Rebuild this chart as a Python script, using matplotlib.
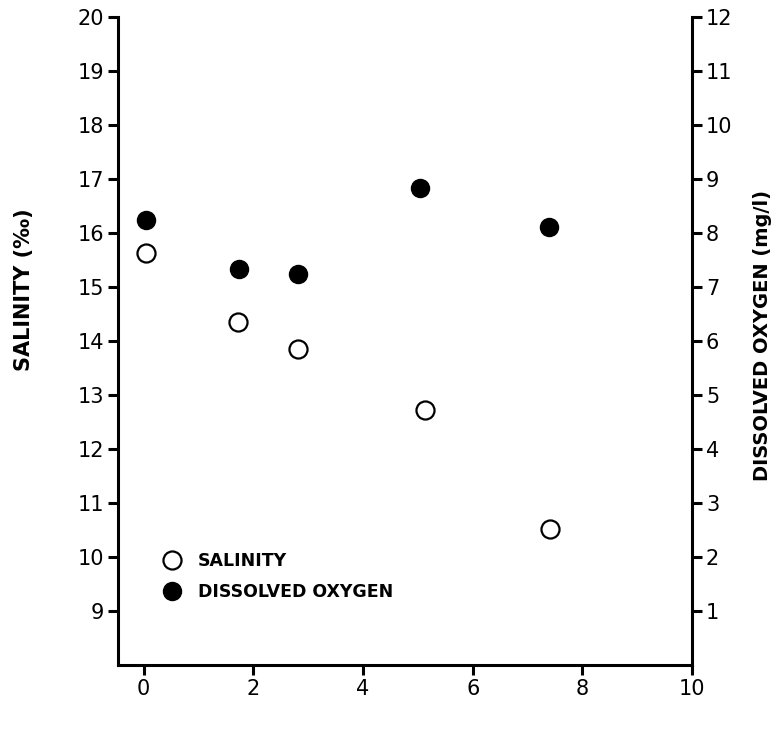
import numpy as np
import matplotlib
matplotlib.use('Agg')
import matplotlib.pyplot as plt
from matplotlib.lines import Line2D

# values
x_sal = [0.04, 1.72, 2.82, 5.13, 7.41]
salinity = [15.63, 14.35, 13.86, 12.73, 10.52]

x_do = [0.04, 1.73, 2.81, 5.04, 7.39]
dissolved_oxygen = [8.24, 7.33, 7.24, 8.83, 8.11]

x_ticks = [0, 2, 4, 6, 8, 10]
sal_ticks = list(range(9, 21))
do_ticks = list(range(1, 13))

plt.rcParams['font.family'] = ['DejaVu Sans']

fig = plt.figure(figsize=(7.72, 7.42), dpi=100)
ax = fig.add_axes([0.1528, 0.1038, 0.7436, 0.8732])
ax2 = ax.twinx()

# salinity - open circles on left axis
ax.plot(x_sal, salinity, 'o', ms=13, mfc='white', mec='black', mew=1.6, ls='none', zorder=3)
# dissolved oxygen - filled circles on right axis
ax2.plot(x_do, dissolved_oxygen, 'o', ms=13, mfc='black', mec='black', ls='none', zorder=3)

ax.set_xlim(-0.47, 10)
ax.set_ylim(8, 20)
ax2.set_ylim(0, 12)

ax.set_xticks(x_ticks)
ax.set_yticks(sal_ticks)
ax2.set_yticks(do_ticks)

for a in (ax, ax2):
    a.spines['top'].set_visible(False)
    for s in a.spines.values():
        s.set_linewidth(2.2)
    a.tick_params(width=2.2, length=7, labelsize=15, pad=3)
ax.spines['right'].set_visible(False)
ax2.spines['left'].set_visible(False)
ax2.spines['bottom'].set_visible(False)

ax.set_ylabel('SALINITY (‰)', fontsize=15, fontweight='bold')
ax.yaxis.set_label_coords(-0.146, 0.579)
ax2.set_ylabel('DISSOLVED OXYGEN (mg/l)', fontsize=14, fontweight='bold', rotation=90)
ax2.yaxis.set_label_coords(1.106, 0.509)

handles = [
    Line2D([], [], marker='o', ls='none', ms=13, mfc='white', mec='black', mew=1.6),
    Line2D([], [], marker='o', ls='none', ms=13, mfc='black', mec='black'),
]
ax.legend(handles, ['SALINITY', 'DISSOLVED OXYGEN'], loc='upper left',
          bbox_to_anchor=(0.180, 0.277), bbox_transform=fig.transFigure,
          frameon=False, handletextpad=0.5, labelspacing=0.72,
          prop={'size': 12.5, 'weight': 'bold'})

fig.savefig('out.png', dpi=100)
